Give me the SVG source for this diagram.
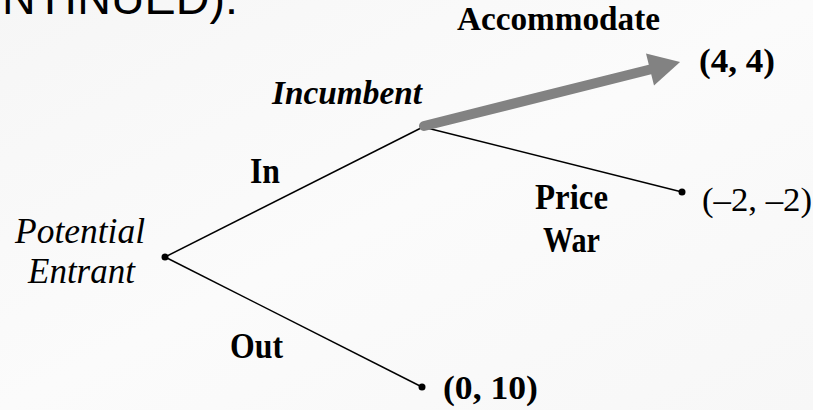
<svg xmlns="http://www.w3.org/2000/svg" width="813" height="410" viewBox="0 0 813 410">
  <defs>
    <linearGradient id="bg" x1="0" y1="0" x2="1" y2="1">
      <stop offset="0" stop-color="#f6f6f6"/>
      <stop offset="0.5" stop-color="#fbfbfb"/>
      <stop offset="1" stop-color="#f7f7f7"/>
    </linearGradient>
    <marker id="head" markerUnits="userSpaceOnUse" markerWidth="40" markerHeight="40" refX="0" refY="0" viewBox="0 -20 40 40" orient="auto" overflow="visible">
      <path d="M0,-16.5 L31,0 L0,16.5 Z" fill="#828282"/>
    </marker>
    <style>
      .t { font-family: "Liberation Serif", "Times New Roman", serif; fill: #000; }
      .b { font-weight: bold; }
      .i { font-style: italic; }
      .edge { stroke: #000; stroke-width: 1.5; fill: none; }
      .dot { fill: #000; }
      .title { font-family: "Liberation Sans", Arial, sans-serif; fill: #000; }
    </style>
  </defs>
  <rect x="0" y="0" width="813" height="410" fill="url(#bg)"/>

  <text class="title" x="2" y="14" font-size="46" textLength="236" lengthAdjust="spacingAndGlyphs">NTINUED):</text>

  <g id="connectors">
    <line class="edge" x1="165" y1="257" x2="423" y2="127"/>
    <line class="edge" x1="165" y1="257" x2="422" y2="387"/>
    <line class="edge" x1="423" y1="127" x2="682" y2="192"/>
    <line x1="424" y1="126" x2="650" y2="69.5" stroke="#828282" stroke-width="10" stroke-linecap="round" marker-end="url(#head)"/>
    <text class="t b" x="457" y="30" font-size="33" textLength="203" lengthAdjust="spacingAndGlyphs">Accommodate</text>
    <text class="t b" x="250" y="183" font-size="35" textLength="30" lengthAdjust="spacingAndGlyphs">In</text>
    <text class="t b" x="230" y="358" font-size="35" textLength="53" lengthAdjust="spacingAndGlyphs">Out</text>
    <text class="t b" x="535" y="209" font-size="35" textLength="73" lengthAdjust="spacingAndGlyphs">Price</text>
    <text class="t b" x="543" y="252" font-size="35" textLength="57" lengthAdjust="spacingAndGlyphs">War</text>
  </g>

  <g id="node-entrant">
    <circle class="dot" cx="165" cy="257" r="3.5"/>
    <text class="t i" x="15" y="243" font-size="35" textLength="130" lengthAdjust="spacingAndGlyphs">Potential</text>
    <text class="t i" x="28" y="283" font-size="35" textLength="107" lengthAdjust="spacingAndGlyphs">Entrant</text>
  </g>

  <g id="node-incumbent">
    <text class="t b i" x="272" y="104" font-size="34" textLength="150" lengthAdjust="spacingAndGlyphs">Incumbent</text>
  </g>

  <g id="node-accommodate">
    <text class="t b" x="699" y="72" font-size="34" textLength="76" lengthAdjust="spacingAndGlyphs">(4, 4)</text>
  </g>

  <g id="node-pricewar">
    <circle class="dot" cx="682" cy="192" r="3.5"/>
    <text class="t" x="702" y="211" font-size="34" textLength="110" lengthAdjust="spacingAndGlyphs">(–2, –2)</text>
  </g>

  <g id="node-out">
    <circle class="dot" cx="422" cy="387" r="3.5"/>
    <text class="t b" x="443" y="399" font-size="34" textLength="95" lengthAdjust="spacingAndGlyphs">(0, 10)</text>
  </g>
</svg>
